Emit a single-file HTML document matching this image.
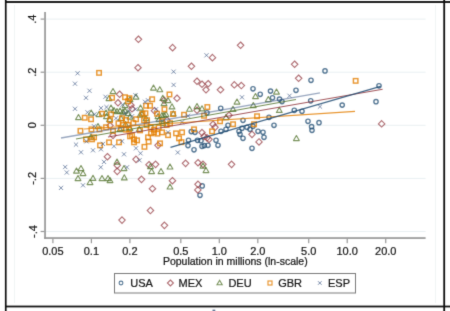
<!DOCTYPE html>
<html><head><meta charset="utf-8"><style>
html,body{margin:0;padding:0;background:#fff;width:450px;height:311px;overflow:hidden}
svg{display:block}
.t{font-family:"Liberation Sans",sans-serif;font-size:11px;fill:#151515;stroke:#151515;stroke-width:0.22px}
.tt{font-family:"Liberation Sans",sans-serif;font-size:10.5px;fill:#151515;stroke:#151515;stroke-width:0.22px}
</style></head><body>
<svg width="450" height="311" viewBox="0 0 450 311">
<defs><filter id="bl" x="0" y="0" width="450" height="311" filterUnits="userSpaceOnUse" color-interpolation-filters="sRGB"><feConvolveMatrix order="3" kernelMatrix="0.015 0.085 0.015 0.085 0.6 0.085 0.015 0.085 0.015" edgeMode="duplicate"/></filter></defs>
<g filter="url(#bl)"><rect width="450" height="311" fill="#fff"/>
<rect x="5" y="1" width="445" height="2" fill="#1e1e1e"/>
<rect x="5" y="305.6" width="445" height="1.8" fill="#151515"/>
<rect x="212.5" y="309.6" width="2.8" height="1.4" fill="#6a7a98"/>
<rect x="4.9" y="0" width="1.7" height="311" fill="#0e0e0e"/>
<rect x="443.3" y="0" width="1.8" height="311" fill="#0e0e0e"/>
<rect x="14" y="5" width="1" height="298" fill="#f1f5f5"/>
<rect x="435" y="5" width="1" height="298" fill="#f1f5f5"/>
<rect x="46" y="18.60" width="379.6" height="1" fill="#e9f0f2"/>
<rect x="46" y="71.70" width="379.6" height="1" fill="#e9f0f2"/>
<rect x="46" y="124.80" width="379.6" height="1" fill="#e9f0f2"/>
<rect x="46" y="177.90" width="379.6" height="1" fill="#e9f0f2"/>
<rect x="46" y="231.00" width="379.6" height="1" fill="#e9f0f2"/>
<rect x="44.2" y="12" width="1.7" height="226.8" fill="#979797"/>
<rect x="44.2" y="237.2" width="381.4" height="1.7" fill="#979797"/>
<rect x="40.6" y="18.50" width="3.8" height="1.2" fill="#979797"/>
<rect x="40.6" y="71.60" width="3.8" height="1.2" fill="#979797"/>
<rect x="40.6" y="124.70" width="3.8" height="1.2" fill="#979797"/>
<rect x="40.6" y="177.80" width="3.8" height="1.2" fill="#979797"/>
<rect x="40.6" y="230.90" width="3.8" height="1.2" fill="#979797"/>
<rect x="52.30" y="238.9" width="1.2" height="4.3" fill="#979797"/>
<text x="52.90" y="255" text-anchor="middle" class="t">0.05</text>
<rect x="90.80" y="238.9" width="1.2" height="4.3" fill="#979797"/>
<text x="91.40" y="255" text-anchor="middle" class="t">0.1</text>
<rect x="129.31" y="238.9" width="1.2" height="4.3" fill="#979797"/>
<text x="129.91" y="255" text-anchor="middle" class="t">0.2</text>
<rect x="180.21" y="238.9" width="1.2" height="4.3" fill="#979797"/>
<text x="180.81" y="255" text-anchor="middle" class="t">0.5</text>
<rect x="218.71" y="238.9" width="1.2" height="4.3" fill="#979797"/>
<text x="219.31" y="255" text-anchor="middle" class="t">1.0</text>
<rect x="257.22" y="238.9" width="1.2" height="4.3" fill="#979797"/>
<text x="257.82" y="255" text-anchor="middle" class="t">2.0</text>
<rect x="308.12" y="238.9" width="1.2" height="4.3" fill="#979797"/>
<text x="308.72" y="255" text-anchor="middle" class="t">5.0</text>
<rect x="346.62" y="238.9" width="1.2" height="4.3" fill="#979797"/>
<text x="347.22" y="255" text-anchor="middle" class="t">10.0</text>
<rect x="385.13" y="238.9" width="1.2" height="4.3" fill="#979797"/>
<text x="385.73" y="255" text-anchor="middle" class="t">20.0</text>
<text x="36.5" y="19.10" text-anchor="middle" class="t" transform="rotate(-90 36.5 19.10)">.4</text>
<text x="36.5" y="72.20" text-anchor="middle" class="t" transform="rotate(-90 36.5 72.20)">.2</text>
<text x="36.5" y="125.30" text-anchor="middle" class="t" transform="rotate(-90 36.5 125.30)">0</text>
<text x="36.5" y="178.40" text-anchor="middle" class="t" transform="rotate(-90 36.5 178.40)">-.2</text>
<text x="36.5" y="231.50" text-anchor="middle" class="t" transform="rotate(-90 36.5 231.50)">-.4</text>
<text x="235.3" y="265" text-anchor="middle" class="tt">Population in millions (ln-scale)</text>
<circle cx="325.0" cy="70.9" r="2.15" fill="none" stroke="#1a476f" stroke-opacity="0.74" stroke-width="1.35"/>
<circle cx="311.0" cy="80.3" r="2.15" fill="none" stroke="#1a476f" stroke-opacity="0.74" stroke-width="1.35"/>
<circle cx="379.0" cy="85.8" r="2.15" fill="none" stroke="#1a476f" stroke-opacity="0.74" stroke-width="1.35"/>
<circle cx="220.7" cy="108.3" r="2.15" fill="none" stroke="#1a476f" stroke-opacity="0.74" stroke-width="1.35"/>
<circle cx="207.0" cy="112.8" r="2.15" fill="none" stroke="#1a476f" stroke-opacity="0.74" stroke-width="1.35"/>
<circle cx="253.0" cy="88.8" r="2.15" fill="none" stroke="#1a476f" stroke-opacity="0.74" stroke-width="1.35"/>
<circle cx="260.2" cy="94.3" r="2.15" fill="none" stroke="#1a476f" stroke-opacity="0.74" stroke-width="1.35"/>
<circle cx="270.5" cy="91.1" r="2.15" fill="none" stroke="#1a476f" stroke-opacity="0.74" stroke-width="1.35"/>
<circle cx="296.0" cy="90.3" r="2.15" fill="none" stroke="#1a476f" stroke-opacity="0.74" stroke-width="1.35"/>
<circle cx="272.5" cy="97.8" r="2.15" fill="none" stroke="#1a476f" stroke-opacity="0.74" stroke-width="1.35"/>
<circle cx="279.5" cy="99.1" r="2.15" fill="none" stroke="#1a476f" stroke-opacity="0.74" stroke-width="1.35"/>
<circle cx="282.0" cy="101.6" r="2.15" fill="none" stroke="#1a476f" stroke-opacity="0.74" stroke-width="1.35"/>
<circle cx="310.7" cy="100.8" r="2.15" fill="none" stroke="#1a476f" stroke-opacity="0.74" stroke-width="1.35"/>
<circle cx="294.3" cy="110.3" r="2.15" fill="none" stroke="#1a476f" stroke-opacity="0.74" stroke-width="1.35"/>
<circle cx="302.0" cy="111.3" r="2.15" fill="none" stroke="#1a476f" stroke-opacity="0.74" stroke-width="1.35"/>
<circle cx="342.2" cy="105.1" r="2.15" fill="none" stroke="#1a476f" stroke-opacity="0.74" stroke-width="1.35"/>
<circle cx="376.0" cy="101.7" r="2.15" fill="none" stroke="#1a476f" stroke-opacity="0.74" stroke-width="1.35"/>
<circle cx="191.3" cy="131.6" r="2.15" fill="none" stroke="#1a476f" stroke-opacity="0.74" stroke-width="1.35"/>
<circle cx="195.0" cy="132.3" r="2.15" fill="none" stroke="#1a476f" stroke-opacity="0.74" stroke-width="1.35"/>
<circle cx="197.5" cy="140.3" r="2.15" fill="none" stroke="#1a476f" stroke-opacity="0.74" stroke-width="1.35"/>
<circle cx="204.3" cy="145.6" r="2.15" fill="none" stroke="#1a476f" stroke-opacity="0.74" stroke-width="1.35"/>
<circle cx="208.0" cy="145.3" r="2.15" fill="none" stroke="#1a476f" stroke-opacity="0.74" stroke-width="1.35"/>
<circle cx="194.0" cy="149.8" r="2.15" fill="none" stroke="#1a476f" stroke-opacity="0.74" stroke-width="1.35"/>
<circle cx="188.0" cy="145.6" r="2.15" fill="none" stroke="#1a476f" stroke-opacity="0.74" stroke-width="1.35"/>
<circle cx="243.0" cy="120.3" r="2.15" fill="none" stroke="#1a476f" stroke-opacity="0.74" stroke-width="1.35"/>
<circle cx="269.0" cy="117.3" r="2.15" fill="none" stroke="#1a476f" stroke-opacity="0.74" stroke-width="1.35"/>
<circle cx="274.0" cy="125.3" r="2.15" fill="none" stroke="#1a476f" stroke-opacity="0.74" stroke-width="1.35"/>
<circle cx="228.0" cy="125.3" r="2.15" fill="none" stroke="#1a476f" stroke-opacity="0.74" stroke-width="1.35"/>
<circle cx="221.0" cy="131.3" r="2.15" fill="none" stroke="#1a476f" stroke-opacity="0.74" stroke-width="1.35"/>
<circle cx="226.0" cy="129.3" r="2.15" fill="none" stroke="#1a476f" stroke-opacity="0.74" stroke-width="1.35"/>
<circle cx="239.0" cy="131.3" r="2.15" fill="none" stroke="#1a476f" stroke-opacity="0.74" stroke-width="1.35"/>
<circle cx="242.0" cy="128.3" r="2.15" fill="none" stroke="#1a476f" stroke-opacity="0.74" stroke-width="1.35"/>
<circle cx="247.0" cy="127.3" r="2.15" fill="none" stroke="#1a476f" stroke-opacity="0.74" stroke-width="1.35"/>
<circle cx="250.0" cy="129.3" r="2.15" fill="none" stroke="#1a476f" stroke-opacity="0.74" stroke-width="1.35"/>
<circle cx="253.0" cy="126.3" r="2.15" fill="none" stroke="#1a476f" stroke-opacity="0.74" stroke-width="1.35"/>
<circle cx="258.0" cy="131.3" r="2.15" fill="none" stroke="#1a476f" stroke-opacity="0.74" stroke-width="1.35"/>
<circle cx="263.0" cy="132.3" r="2.15" fill="none" stroke="#1a476f" stroke-opacity="0.74" stroke-width="1.35"/>
<circle cx="264.0" cy="137.3" r="2.15" fill="none" stroke="#1a476f" stroke-opacity="0.74" stroke-width="1.35"/>
<circle cx="243.0" cy="138.3" r="2.15" fill="none" stroke="#1a476f" stroke-opacity="0.74" stroke-width="1.35"/>
<circle cx="240.0" cy="134.3" r="2.15" fill="none" stroke="#1a476f" stroke-opacity="0.74" stroke-width="1.35"/>
<circle cx="252.0" cy="148.3" r="2.15" fill="none" stroke="#1a476f" stroke-opacity="0.74" stroke-width="1.35"/>
<circle cx="216.0" cy="140.3" r="2.15" fill="none" stroke="#1a476f" stroke-opacity="0.74" stroke-width="1.35"/>
<circle cx="218.0" cy="145.3" r="2.15" fill="none" stroke="#1a476f" stroke-opacity="0.74" stroke-width="1.35"/>
<circle cx="202.0" cy="146.3" r="2.15" fill="none" stroke="#1a476f" stroke-opacity="0.74" stroke-width="1.35"/>
<circle cx="188.5" cy="140.3" r="2.15" fill="none" stroke="#1a476f" stroke-opacity="0.74" stroke-width="1.35"/>
<circle cx="308.0" cy="121.3" r="2.15" fill="none" stroke="#1a476f" stroke-opacity="0.74" stroke-width="1.35"/>
<circle cx="319.0" cy="122.7" r="2.15" fill="none" stroke="#1a476f" stroke-opacity="0.74" stroke-width="1.35"/>
<circle cx="311.6" cy="126.7" r="2.15" fill="none" stroke="#1a476f" stroke-opacity="0.74" stroke-width="1.35"/>
<circle cx="312.0" cy="130.3" r="2.15" fill="none" stroke="#1a476f" stroke-opacity="0.74" stroke-width="1.35"/>
<circle cx="202.2" cy="185.9" r="2.15" fill="none" stroke="#1a476f" stroke-opacity="0.74" stroke-width="1.35"/>
<circle cx="200.0" cy="195.3" r="2.15" fill="none" stroke="#1a476f" stroke-opacity="0.74" stroke-width="1.35"/>
<circle cx="201.0" cy="140.8" r="2.15" fill="none" stroke="#1a476f" stroke-opacity="0.74" stroke-width="1.35"/>
<path d="M138.4 36.0L141.7 39.3L138.4 42.5L135.2 39.3Z" fill="none" stroke="#90353b" stroke-opacity="0.72" stroke-width="1.1"/>
<path d="M172.6 44.4L175.8 47.7L172.6 50.9L169.3 47.7Z" fill="none" stroke="#90353b" stroke-opacity="0.72" stroke-width="1.1"/>
<path d="M240.6 42.0L243.8 45.3L240.6 48.5L237.3 45.3Z" fill="none" stroke="#90353b" stroke-opacity="0.72" stroke-width="1.1"/>
<path d="M212.4 54.4L215.7 57.7L212.4 60.9L209.2 57.7Z" fill="none" stroke="#90353b" stroke-opacity="0.72" stroke-width="1.1"/>
<path d="M138.0 64.5L141.2 67.7L138.0 71.0L134.8 67.7Z" fill="none" stroke="#90353b" stroke-opacity="0.72" stroke-width="1.1"/>
<path d="M191.4 63.0L194.7 66.3L191.4 69.5L188.2 66.3Z" fill="none" stroke="#90353b" stroke-opacity="0.72" stroke-width="1.1"/>
<path d="M294.6 61.0L297.9 64.3L294.6 67.5L291.4 64.3Z" fill="none" stroke="#90353b" stroke-opacity="0.72" stroke-width="1.1"/>
<path d="M298.6 75.0L301.9 78.3L298.6 81.5L295.4 78.3Z" fill="none" stroke="#90353b" stroke-opacity="0.72" stroke-width="1.1"/>
<path d="M197.0 78.0L200.2 81.3L197.0 84.5L193.8 81.3Z" fill="none" stroke="#90353b" stroke-opacity="0.72" stroke-width="1.1"/>
<path d="M202.0 81.0L205.2 84.3L202.0 87.5L198.8 84.3Z" fill="none" stroke="#90353b" stroke-opacity="0.72" stroke-width="1.1"/>
<path d="M208.2 80.5L211.4 83.8L208.2 87.0L204.9 83.8Z" fill="none" stroke="#90353b" stroke-opacity="0.72" stroke-width="1.1"/>
<path d="M119.6 91.0L122.8 94.3L119.6 97.5L116.3 94.3Z" fill="none" stroke="#90353b" stroke-opacity="0.72" stroke-width="1.1"/>
<path d="M118.0 99.5L121.2 102.8L118.0 106.0L114.8 102.8Z" fill="none" stroke="#90353b" stroke-opacity="0.72" stroke-width="1.1"/>
<path d="M131.0 102.0L134.2 105.3L131.0 108.5L127.8 105.3Z" fill="none" stroke="#90353b" stroke-opacity="0.72" stroke-width="1.1"/>
<path d="M132.0 105.5L135.2 108.8L132.0 112.0L128.8 108.8Z" fill="none" stroke="#90353b" stroke-opacity="0.72" stroke-width="1.1"/>
<path d="M177.0 95.0L180.2 98.3L177.0 101.5L173.8 98.3Z" fill="none" stroke="#90353b" stroke-opacity="0.72" stroke-width="1.1"/>
<path d="M164.0 97.0L167.2 100.3L164.0 103.5L160.8 100.3Z" fill="none" stroke="#90353b" stroke-opacity="0.72" stroke-width="1.1"/>
<path d="M154.5 107.5L157.8 110.8L154.5 114.0L151.2 110.8Z" fill="none" stroke="#90353b" stroke-opacity="0.72" stroke-width="1.1"/>
<path d="M206.0 86.5L209.2 89.8L206.0 93.0L202.8 89.8Z" fill="none" stroke="#90353b" stroke-opacity="0.72" stroke-width="1.1"/>
<path d="M220.5 86.5L223.8 89.8L220.5 93.0L217.2 89.8Z" fill="none" stroke="#90353b" stroke-opacity="0.72" stroke-width="1.1"/>
<path d="M197.0 107.0L200.2 110.3L197.0 113.5L193.8 110.3Z" fill="none" stroke="#90353b" stroke-opacity="0.72" stroke-width="1.1"/>
<path d="M234.3 81.6L237.6 84.9L234.3 88.1L231.1 84.9Z" fill="none" stroke="#90353b" stroke-opacity="0.72" stroke-width="1.1"/>
<path d="M241.3 82.3L244.6 85.6L241.3 88.8L238.1 85.6Z" fill="none" stroke="#90353b" stroke-opacity="0.72" stroke-width="1.1"/>
<path d="M381.6 120.6L384.9 123.9L381.6 127.1L378.4 123.9Z" fill="none" stroke="#90353b" stroke-opacity="0.72" stroke-width="1.1"/>
<path d="M107.4 153.5L110.7 156.7L107.4 160.0L104.2 156.7Z" fill="none" stroke="#90353b" stroke-opacity="0.72" stroke-width="1.1"/>
<path d="M136.0 156.1L139.2 159.3L136.0 162.6L132.8 159.3Z" fill="none" stroke="#90353b" stroke-opacity="0.72" stroke-width="1.1"/>
<path d="M117.2 162.1L120.5 165.3L117.2 168.6L114.0 165.3Z" fill="none" stroke="#90353b" stroke-opacity="0.72" stroke-width="1.1"/>
<path d="M117.2 168.1L120.5 171.3L117.2 174.6L114.0 171.3Z" fill="none" stroke="#90353b" stroke-opacity="0.72" stroke-width="1.1"/>
<path d="M141.5 176.1L144.8 179.3L141.5 182.6L138.2 179.3Z" fill="none" stroke="#90353b" stroke-opacity="0.72" stroke-width="1.1"/>
<path d="M122.0 216.9L125.2 220.1L122.0 223.4L118.8 220.1Z" fill="none" stroke="#90353b" stroke-opacity="0.72" stroke-width="1.1"/>
<path d="M110.0 122.3L113.2 125.6L110.0 128.8L106.8 125.6Z" fill="none" stroke="#90353b" stroke-opacity="0.72" stroke-width="1.1"/>
<path d="M113.0 132.1L116.2 135.3L113.0 138.6L109.8 135.3Z" fill="none" stroke="#90353b" stroke-opacity="0.72" stroke-width="1.1"/>
<path d="M167.0 117.0L170.2 120.3L167.0 123.5L163.8 120.3Z" fill="none" stroke="#90353b" stroke-opacity="0.72" stroke-width="1.1"/>
<path d="M202.0 129.4L205.2 132.6L202.0 135.9L198.8 132.6Z" fill="none" stroke="#90353b" stroke-opacity="0.72" stroke-width="1.1"/>
<path d="M207.0 134.6L210.2 137.8L207.0 141.1L203.8 137.8Z" fill="none" stroke="#90353b" stroke-opacity="0.72" stroke-width="1.1"/>
<path d="M158.0 142.1L161.2 145.3L158.0 148.6L154.8 145.3Z" fill="none" stroke="#90353b" stroke-opacity="0.72" stroke-width="1.1"/>
<path d="M155.6 161.1L158.8 164.3L155.6 167.6L152.3 164.3Z" fill="none" stroke="#90353b" stroke-opacity="0.72" stroke-width="1.1"/>
<path d="M185.6 160.1L188.8 163.3L185.6 166.6L182.3 163.3Z" fill="none" stroke="#90353b" stroke-opacity="0.72" stroke-width="1.1"/>
<path d="M198.0 159.5L201.2 162.7L198.0 166.0L194.8 162.7Z" fill="none" stroke="#90353b" stroke-opacity="0.72" stroke-width="1.1"/>
<path d="M203.0 161.1L206.2 164.3L203.0 167.6L199.8 164.3Z" fill="none" stroke="#90353b" stroke-opacity="0.72" stroke-width="1.1"/>
<path d="M229.0 112.0L232.2 115.3L229.0 118.5L225.8 115.3Z" fill="none" stroke="#90353b" stroke-opacity="0.72" stroke-width="1.1"/>
<path d="M213.0 121.0L216.2 124.3L213.0 127.5L209.8 124.3Z" fill="none" stroke="#90353b" stroke-opacity="0.72" stroke-width="1.1"/>
<path d="M215.0 124.0L218.2 127.3L215.0 130.6L211.8 127.3Z" fill="none" stroke="#90353b" stroke-opacity="0.72" stroke-width="1.1"/>
<path d="M252.0 131.1L255.2 134.3L252.0 137.6L248.8 134.3Z" fill="none" stroke="#90353b" stroke-opacity="0.72" stroke-width="1.1"/>
<path d="M259.0 138.7L262.2 141.9L259.0 145.2L255.8 141.9Z" fill="none" stroke="#90353b" stroke-opacity="0.72" stroke-width="1.1"/>
<path d="M209.0 136.1L212.2 139.3L209.0 142.6L205.8 139.3Z" fill="none" stroke="#90353b" stroke-opacity="0.72" stroke-width="1.1"/>
<path d="M204.0 133.1L207.2 136.3L204.0 139.6L200.8 136.3Z" fill="none" stroke="#90353b" stroke-opacity="0.72" stroke-width="1.1"/>
<path d="M149.0 161.5L152.2 164.7L149.0 168.0L145.8 164.7Z" fill="none" stroke="#90353b" stroke-opacity="0.72" stroke-width="1.1"/>
<path d="M172.4 177.5L175.7 180.7L172.4 184.0L169.2 180.7Z" fill="none" stroke="#90353b" stroke-opacity="0.72" stroke-width="1.1"/>
<path d="M152.4 185.5L155.7 188.7L152.4 192.0L149.2 188.7Z" fill="none" stroke="#90353b" stroke-opacity="0.72" stroke-width="1.1"/>
<path d="M198.0 181.1L201.2 184.3L198.0 187.6L194.8 184.3Z" fill="none" stroke="#90353b" stroke-opacity="0.72" stroke-width="1.1"/>
<path d="M197.8 186.7L201.1 189.9L197.8 193.2L194.6 189.9Z" fill="none" stroke="#90353b" stroke-opacity="0.72" stroke-width="1.1"/>
<path d="M150.4 207.2L153.7 210.5L150.4 213.8L147.2 210.5Z" fill="none" stroke="#90353b" stroke-opacity="0.72" stroke-width="1.1"/>
<path d="M231.6 161.1L234.8 164.3L231.6 167.6L228.3 164.3Z" fill="none" stroke="#90353b" stroke-opacity="0.72" stroke-width="1.1"/>
<path d="M164.4 222.1L167.7 225.3L164.4 228.6L161.2 225.3Z" fill="none" stroke="#90353b" stroke-opacity="0.72" stroke-width="1.1"/>
<path d="M91.2 110.0L94.1 115.1L88.3 115.1Z" fill="none" stroke="#55752f" stroke-opacity="0.78" stroke-width="1.1" stroke-linejoin="round"/>
<path d="M106.0 110.0L108.9 115.1L103.1 115.1Z" fill="none" stroke="#55752f" stroke-opacity="0.78" stroke-width="1.1" stroke-linejoin="round"/>
<path d="M78.5 114.5L81.4 119.6L75.6 119.6Z" fill="none" stroke="#55752f" stroke-opacity="0.78" stroke-width="1.1" stroke-linejoin="round"/>
<path d="M113.0 88.5L115.9 93.6L110.1 93.6Z" fill="none" stroke="#55752f" stroke-opacity="0.78" stroke-width="1.1" stroke-linejoin="round"/>
<path d="M109.0 95.5L111.9 100.6L106.1 100.6Z" fill="none" stroke="#55752f" stroke-opacity="0.78" stroke-width="1.1" stroke-linejoin="round"/>
<path d="M136.0 94.0L138.9 99.1L133.1 99.1Z" fill="none" stroke="#55752f" stroke-opacity="0.78" stroke-width="1.1" stroke-linejoin="round"/>
<path d="M130.0 96.5L132.9 101.6L127.1 101.6Z" fill="none" stroke="#55752f" stroke-opacity="0.78" stroke-width="1.1" stroke-linejoin="round"/>
<path d="M125.0 102.5L127.9 107.6L122.1 107.6Z" fill="none" stroke="#55752f" stroke-opacity="0.78" stroke-width="1.1" stroke-linejoin="round"/>
<path d="M111.0 105.0L113.9 110.1L108.1 110.1Z" fill="none" stroke="#55752f" stroke-opacity="0.78" stroke-width="1.1" stroke-linejoin="round"/>
<path d="M114.0 107.5L116.9 112.6L111.1 112.6Z" fill="none" stroke="#55752f" stroke-opacity="0.78" stroke-width="1.1" stroke-linejoin="round"/>
<path d="M120.0 108.0L122.9 113.1L117.1 113.1Z" fill="none" stroke="#55752f" stroke-opacity="0.78" stroke-width="1.1" stroke-linejoin="round"/>
<path d="M123.0 109.0L125.9 114.1L120.1 114.1Z" fill="none" stroke="#55752f" stroke-opacity="0.78" stroke-width="1.1" stroke-linejoin="round"/>
<path d="M128.0 110.5L130.9 115.6L125.1 115.6Z" fill="none" stroke="#55752f" stroke-opacity="0.78" stroke-width="1.1" stroke-linejoin="round"/>
<path d="M140.5 105.0L143.4 110.1L137.6 110.1Z" fill="none" stroke="#55752f" stroke-opacity="0.78" stroke-width="1.1" stroke-linejoin="round"/>
<path d="M153.5 85.0L156.4 90.1L150.6 90.1Z" fill="none" stroke="#55752f" stroke-opacity="0.78" stroke-width="1.1" stroke-linejoin="round"/>
<path d="M159.8 86.7L162.7 91.8L156.9 91.8Z" fill="none" stroke="#55752f" stroke-opacity="0.78" stroke-width="1.1" stroke-linejoin="round"/>
<path d="M162.8 95.3L165.7 100.4L159.9 100.4Z" fill="none" stroke="#55752f" stroke-opacity="0.78" stroke-width="1.1" stroke-linejoin="round"/>
<path d="M168.0 97.5L170.9 102.6L165.1 102.6Z" fill="none" stroke="#55752f" stroke-opacity="0.78" stroke-width="1.1" stroke-linejoin="round"/>
<path d="M172.0 103.8L174.9 108.9L169.1 108.9Z" fill="none" stroke="#55752f" stroke-opacity="0.78" stroke-width="1.1" stroke-linejoin="round"/>
<path d="M164.0 100.5L166.9 105.6L161.1 105.6Z" fill="none" stroke="#55752f" stroke-opacity="0.78" stroke-width="1.1" stroke-linejoin="round"/>
<path d="M166.0 111.5L168.9 116.6L163.1 116.6Z" fill="none" stroke="#55752f" stroke-opacity="0.78" stroke-width="1.1" stroke-linejoin="round"/>
<path d="M189.5 106.2L192.4 111.3L186.6 111.3Z" fill="none" stroke="#55752f" stroke-opacity="0.78" stroke-width="1.1" stroke-linejoin="round"/>
<path d="M197.0 103.5L199.9 108.6L194.1 108.6Z" fill="none" stroke="#55752f" stroke-opacity="0.78" stroke-width="1.1" stroke-linejoin="round"/>
<path d="M202.0 105.8L204.9 110.9L199.1 110.9Z" fill="none" stroke="#55752f" stroke-opacity="0.78" stroke-width="1.1" stroke-linejoin="round"/>
<path d="M237.0 99.0L239.9 104.1L234.1 104.1Z" fill="none" stroke="#55752f" stroke-opacity="0.78" stroke-width="1.1" stroke-linejoin="round"/>
<path d="M255.5 93.5L258.4 98.6L252.6 98.6Z" fill="none" stroke="#55752f" stroke-opacity="0.78" stroke-width="1.1" stroke-linejoin="round"/>
<path d="M268.3 96.5L271.2 101.6L265.4 101.6Z" fill="none" stroke="#55752f" stroke-opacity="0.78" stroke-width="1.1" stroke-linejoin="round"/>
<path d="M253.3 102.5L256.2 107.6L250.4 107.6Z" fill="none" stroke="#55752f" stroke-opacity="0.78" stroke-width="1.1" stroke-linejoin="round"/>
<path d="M233.0 106.3L235.9 111.4L230.1 111.4Z" fill="none" stroke="#55752f" stroke-opacity="0.78" stroke-width="1.1" stroke-linejoin="round"/>
<path d="M276.5 89.0L279.4 94.1L273.6 94.1Z" fill="none" stroke="#55752f" stroke-opacity="0.78" stroke-width="1.1" stroke-linejoin="round"/>
<path d="M279.3 107.3L282.2 112.4L276.4 112.4Z" fill="none" stroke="#55752f" stroke-opacity="0.78" stroke-width="1.1" stroke-linejoin="round"/>
<path d="M117.0 159.0L119.9 164.1L114.1 164.1Z" fill="none" stroke="#55752f" stroke-opacity="0.78" stroke-width="1.1" stroke-linejoin="round"/>
<path d="M124.0 165.5L126.9 170.6L121.1 170.6Z" fill="none" stroke="#55752f" stroke-opacity="0.78" stroke-width="1.1" stroke-linejoin="round"/>
<path d="M76.5 168.0L79.4 173.1L73.6 173.1Z" fill="none" stroke="#55752f" stroke-opacity="0.78" stroke-width="1.1" stroke-linejoin="round"/>
<path d="M81.0 165.5L83.9 170.6L78.1 170.6Z" fill="none" stroke="#55752f" stroke-opacity="0.78" stroke-width="1.1" stroke-linejoin="round"/>
<path d="M83.0 170.5L85.9 175.6L80.1 175.6Z" fill="none" stroke="#55752f" stroke-opacity="0.78" stroke-width="1.1" stroke-linejoin="round"/>
<path d="M78.0 175.5L80.9 180.6L75.1 180.6Z" fill="none" stroke="#55752f" stroke-opacity="0.78" stroke-width="1.1" stroke-linejoin="round"/>
<path d="M93.0 175.3L95.9 180.4L90.1 180.4Z" fill="none" stroke="#55752f" stroke-opacity="0.78" stroke-width="1.1" stroke-linejoin="round"/>
<path d="M90.0 179.5L92.9 184.6L87.1 184.6Z" fill="none" stroke="#55752f" stroke-opacity="0.78" stroke-width="1.1" stroke-linejoin="round"/>
<path d="M102.0 175.5L104.9 180.6L99.1 180.6Z" fill="none" stroke="#55752f" stroke-opacity="0.78" stroke-width="1.1" stroke-linejoin="round"/>
<path d="M108.0 175.5L110.9 180.6L105.1 180.6Z" fill="none" stroke="#55752f" stroke-opacity="0.78" stroke-width="1.1" stroke-linejoin="round"/>
<path d="M110.0 177.5L112.9 182.6L107.1 182.6Z" fill="none" stroke="#55752f" stroke-opacity="0.78" stroke-width="1.1" stroke-linejoin="round"/>
<path d="M124.3 174.8L127.2 179.9L121.4 179.9Z" fill="none" stroke="#55752f" stroke-opacity="0.78" stroke-width="1.1" stroke-linejoin="round"/>
<path d="M109.5 116.5L112.4 121.6L106.6 121.6Z" fill="none" stroke="#55752f" stroke-opacity="0.78" stroke-width="1.1" stroke-linejoin="round"/>
<path d="M125.5 121.5L128.4 126.6L122.6 126.6Z" fill="none" stroke="#55752f" stroke-opacity="0.78" stroke-width="1.1" stroke-linejoin="round"/>
<path d="M98.0 123.5L100.9 128.6L95.1 128.6Z" fill="none" stroke="#55752f" stroke-opacity="0.78" stroke-width="1.1" stroke-linejoin="round"/>
<path d="M120.0 126.5L122.9 131.6L117.1 131.6Z" fill="none" stroke="#55752f" stroke-opacity="0.78" stroke-width="1.1" stroke-linejoin="round"/>
<path d="M91.0 134.0L93.9 139.1L88.1 139.1Z" fill="none" stroke="#55752f" stroke-opacity="0.78" stroke-width="1.1" stroke-linejoin="round"/>
<path d="M125.0 108.0L127.9 113.1L122.1 113.1Z" fill="none" stroke="#55752f" stroke-opacity="0.78" stroke-width="1.1" stroke-linejoin="round"/>
<path d="M117.0 108.5L119.9 113.6L114.1 113.6Z" fill="none" stroke="#55752f" stroke-opacity="0.78" stroke-width="1.1" stroke-linejoin="round"/>
<path d="M106.5 113.5L109.4 118.6L103.6 118.6Z" fill="none" stroke="#55752f" stroke-opacity="0.78" stroke-width="1.1" stroke-linejoin="round"/>
<path d="M130.0 114.0L132.9 119.1L127.1 119.1Z" fill="none" stroke="#55752f" stroke-opacity="0.78" stroke-width="1.1" stroke-linejoin="round"/>
<path d="M121.0 115.5L123.9 120.6L118.1 120.6Z" fill="none" stroke="#55752f" stroke-opacity="0.78" stroke-width="1.1" stroke-linejoin="round"/>
<path d="M142.0 111.0L144.9 116.1L139.1 116.1Z" fill="none" stroke="#55752f" stroke-opacity="0.78" stroke-width="1.1" stroke-linejoin="round"/>
<path d="M146.0 115.5L148.9 120.6L143.1 120.6Z" fill="none" stroke="#55752f" stroke-opacity="0.78" stroke-width="1.1" stroke-linejoin="round"/>
<path d="M159.0 116.5L161.9 121.6L156.1 121.6Z" fill="none" stroke="#55752f" stroke-opacity="0.78" stroke-width="1.1" stroke-linejoin="round"/>
<path d="M158.0 113.5L160.9 118.6L155.1 118.6Z" fill="none" stroke="#55752f" stroke-opacity="0.78" stroke-width="1.1" stroke-linejoin="round"/>
<path d="M99.0 111.5L101.9 116.6L96.1 116.6Z" fill="none" stroke="#55752f" stroke-opacity="0.78" stroke-width="1.1" stroke-linejoin="round"/>
<path d="M162.0 112.5L164.9 117.6L159.1 117.6Z" fill="none" stroke="#55752f" stroke-opacity="0.78" stroke-width="1.1" stroke-linejoin="round"/>
<path d="M163.0 120.5L165.9 125.6L160.1 125.6Z" fill="none" stroke="#55752f" stroke-opacity="0.78" stroke-width="1.1" stroke-linejoin="round"/>
<path d="M226.0 114.5L228.9 119.6L223.1 119.6Z" fill="none" stroke="#55752f" stroke-opacity="0.78" stroke-width="1.1" stroke-linejoin="round"/>
<path d="M296.4 135.5L299.3 140.6L293.5 140.6Z" fill="none" stroke="#55752f" stroke-opacity="0.78" stroke-width="1.1" stroke-linejoin="round"/>
<path d="M150.5 163.5L153.4 168.6L147.6 168.6Z" fill="none" stroke="#55752f" stroke-opacity="0.78" stroke-width="1.1" stroke-linejoin="round"/>
<path d="M151.6 168.5L154.5 173.6L148.7 173.6Z" fill="none" stroke="#55752f" stroke-opacity="0.78" stroke-width="1.1" stroke-linejoin="round"/>
<path d="M161.0 168.5L163.9 173.6L158.1 173.6Z" fill="none" stroke="#55752f" stroke-opacity="0.78" stroke-width="1.1" stroke-linejoin="round"/>
<path d="M170.0 163.9L172.9 169.0L167.1 169.0Z" fill="none" stroke="#55752f" stroke-opacity="0.78" stroke-width="1.1" stroke-linejoin="round"/>
<path d="M203.0 163.0L205.9 168.1L200.1 168.1Z" fill="none" stroke="#55752f" stroke-opacity="0.78" stroke-width="1.1" stroke-linejoin="round"/>
<path d="M206.0 167.5L208.9 172.6L203.1 172.6Z" fill="none" stroke="#55752f" stroke-opacity="0.78" stroke-width="1.1" stroke-linejoin="round"/>
<path d="M170.0 183.9L172.9 189.0L167.1 189.0Z" fill="none" stroke="#55752f" stroke-opacity="0.78" stroke-width="1.1" stroke-linejoin="round"/>
<path d="M130.0 125.5L132.9 130.6L127.1 130.6Z" fill="none" stroke="#55752f" stroke-opacity="0.78" stroke-width="1.1" stroke-linejoin="round"/>
<path d="M139.3 126.2L142.2 131.3L136.4 131.3Z" fill="none" stroke="#55752f" stroke-opacity="0.78" stroke-width="1.1" stroke-linejoin="round"/>
<path d="M140.0 112.2L142.9 117.3L137.1 117.3Z" fill="none" stroke="#55752f" stroke-opacity="0.78" stroke-width="1.1" stroke-linejoin="round"/>
<path d="M173.3 110.8L176.2 115.9L170.4 115.9Z" fill="none" stroke="#55752f" stroke-opacity="0.78" stroke-width="1.1" stroke-linejoin="round"/>
<path d="M164.0 112.2L166.9 117.3L161.1 117.3Z" fill="none" stroke="#55752f" stroke-opacity="0.78" stroke-width="1.1" stroke-linejoin="round"/>
<rect x="96.8" y="70.6" width="4.5" height="4.5" fill="none" stroke="#e37e00" stroke-opacity="0.8" stroke-width="1.45"/>
<rect x="353.4" y="78.6" width="4.5" height="4.5" fill="none" stroke="#e37e00" stroke-opacity="0.8" stroke-width="1.45"/>
<rect x="99.8" y="111.5" width="4.5" height="4.5" fill="none" stroke="#e37e00" stroke-opacity="0.8" stroke-width="1.45"/>
<rect x="82.5" y="115.5" width="4.5" height="4.5" fill="none" stroke="#e37e00" stroke-opacity="0.8" stroke-width="1.45"/>
<rect x="88.8" y="117.0" width="4.5" height="4.5" fill="none" stroke="#e37e00" stroke-opacity="0.8" stroke-width="1.45"/>
<rect x="109.8" y="95.5" width="4.5" height="4.5" fill="none" stroke="#e37e00" stroke-opacity="0.8" stroke-width="1.45"/>
<rect x="122.8" y="95.0" width="4.5" height="4.5" fill="none" stroke="#e37e00" stroke-opacity="0.8" stroke-width="1.45"/>
<rect x="127.2" y="96.0" width="4.5" height="4.5" fill="none" stroke="#e37e00" stroke-opacity="0.8" stroke-width="1.45"/>
<rect x="143.8" y="103.5" width="4.5" height="4.5" fill="none" stroke="#e37e00" stroke-opacity="0.8" stroke-width="1.45"/>
<rect x="140.2" y="111.5" width="4.5" height="4.5" fill="none" stroke="#e37e00" stroke-opacity="0.8" stroke-width="1.45"/>
<rect x="108.8" y="112.0" width="4.5" height="4.5" fill="none" stroke="#e37e00" stroke-opacity="0.8" stroke-width="1.45"/>
<rect x="167.2" y="92.2" width="4.5" height="4.5" fill="none" stroke="#e37e00" stroke-opacity="0.8" stroke-width="1.45"/>
<rect x="149.9" y="97.0" width="4.5" height="4.5" fill="none" stroke="#e37e00" stroke-opacity="0.8" stroke-width="1.45"/>
<rect x="147.8" y="103.5" width="4.5" height="4.5" fill="none" stroke="#e37e00" stroke-opacity="0.8" stroke-width="1.45"/>
<rect x="162.2" y="107.0" width="4.5" height="4.5" fill="none" stroke="#e37e00" stroke-opacity="0.8" stroke-width="1.45"/>
<rect x="154.8" y="111.5" width="4.5" height="4.5" fill="none" stroke="#e37e00" stroke-opacity="0.8" stroke-width="1.45"/>
<rect x="170.8" y="111.8" width="4.5" height="4.5" fill="none" stroke="#e37e00" stroke-opacity="0.8" stroke-width="1.45"/>
<rect x="181.8" y="112.5" width="4.5" height="4.5" fill="none" stroke="#e37e00" stroke-opacity="0.8" stroke-width="1.45"/>
<rect x="143.2" y="111.0" width="4.5" height="4.5" fill="none" stroke="#e37e00" stroke-opacity="0.8" stroke-width="1.45"/>
<rect x="205.1" y="104.8" width="4.5" height="4.5" fill="none" stroke="#e37e00" stroke-opacity="0.8" stroke-width="1.45"/>
<rect x="78.2" y="128.6" width="4.5" height="4.5" fill="none" stroke="#e37e00" stroke-opacity="0.8" stroke-width="1.45"/>
<rect x="83.8" y="137.1" width="4.5" height="4.5" fill="none" stroke="#e37e00" stroke-opacity="0.8" stroke-width="1.45"/>
<rect x="89.8" y="137.1" width="4.5" height="4.5" fill="none" stroke="#e37e00" stroke-opacity="0.8" stroke-width="1.45"/>
<rect x="97.8" y="143.1" width="4.5" height="4.5" fill="none" stroke="#e37e00" stroke-opacity="0.8" stroke-width="1.45"/>
<rect x="106.8" y="140.1" width="4.5" height="4.5" fill="none" stroke="#e37e00" stroke-opacity="0.8" stroke-width="1.45"/>
<rect x="116.8" y="140.1" width="4.5" height="4.5" fill="none" stroke="#e37e00" stroke-opacity="0.8" stroke-width="1.45"/>
<rect x="127.8" y="134.1" width="4.5" height="4.5" fill="none" stroke="#e37e00" stroke-opacity="0.8" stroke-width="1.45"/>
<rect x="134.8" y="138.1" width="4.5" height="4.5" fill="none" stroke="#e37e00" stroke-opacity="0.8" stroke-width="1.45"/>
<rect x="142.2" y="144.6" width="4.5" height="4.5" fill="none" stroke="#e37e00" stroke-opacity="0.8" stroke-width="1.45"/>
<rect x="107.8" y="118.0" width="4.5" height="4.5" fill="none" stroke="#e37e00" stroke-opacity="0.8" stroke-width="1.45"/>
<rect x="116.2" y="121.0" width="4.5" height="4.5" fill="none" stroke="#e37e00" stroke-opacity="0.8" stroke-width="1.45"/>
<rect x="119.8" y="116.0" width="4.5" height="4.5" fill="none" stroke="#e37e00" stroke-opacity="0.8" stroke-width="1.45"/>
<rect x="123.8" y="117.8" width="4.5" height="4.5" fill="none" stroke="#e37e00" stroke-opacity="0.8" stroke-width="1.45"/>
<rect x="97.2" y="127.1" width="4.5" height="4.5" fill="none" stroke="#e37e00" stroke-opacity="0.8" stroke-width="1.45"/>
<rect x="89.2" y="127.1" width="4.5" height="4.5" fill="none" stroke="#e37e00" stroke-opacity="0.8" stroke-width="1.45"/>
<rect x="110.8" y="128.6" width="4.5" height="4.5" fill="none" stroke="#e37e00" stroke-opacity="0.8" stroke-width="1.45"/>
<rect x="129.8" y="133.1" width="4.5" height="4.5" fill="none" stroke="#e37e00" stroke-opacity="0.8" stroke-width="1.45"/>
<rect x="91.8" y="135.1" width="4.5" height="4.5" fill="none" stroke="#e37e00" stroke-opacity="0.8" stroke-width="1.45"/>
<rect x="133.8" y="117.0" width="4.5" height="4.5" fill="none" stroke="#e37e00" stroke-opacity="0.8" stroke-width="1.45"/>
<rect x="141.8" y="118.0" width="4.5" height="4.5" fill="none" stroke="#e37e00" stroke-opacity="0.8" stroke-width="1.45"/>
<rect x="159.8" y="119.0" width="4.5" height="4.5" fill="none" stroke="#e37e00" stroke-opacity="0.8" stroke-width="1.45"/>
<rect x="173.8" y="131.1" width="4.5" height="4.5" fill="none" stroke="#e37e00" stroke-opacity="0.8" stroke-width="1.45"/>
<rect x="103.8" y="125.0" width="4.5" height="4.5" fill="none" stroke="#e37e00" stroke-opacity="0.8" stroke-width="1.45"/>
<rect x="125.8" y="99.0" width="4.5" height="4.5" fill="none" stroke="#e37e00" stroke-opacity="0.8" stroke-width="1.45"/>
<rect x="144.8" y="118.0" width="4.5" height="4.5" fill="none" stroke="#e37e00" stroke-opacity="0.8" stroke-width="1.45"/>
<rect x="167.8" y="121.0" width="4.5" height="4.5" fill="none" stroke="#e37e00" stroke-opacity="0.8" stroke-width="1.45"/>
<rect x="118.8" y="126.1" width="4.5" height="4.5" fill="none" stroke="#e37e00" stroke-opacity="0.8" stroke-width="1.45"/>
<rect x="126.8" y="127.1" width="4.5" height="4.5" fill="none" stroke="#e37e00" stroke-opacity="0.8" stroke-width="1.45"/>
<rect x="137.8" y="128.1" width="4.5" height="4.5" fill="none" stroke="#e37e00" stroke-opacity="0.8" stroke-width="1.45"/>
<rect x="148.8" y="131.1" width="4.5" height="4.5" fill="none" stroke="#e37e00" stroke-opacity="0.8" stroke-width="1.45"/>
<rect x="151.8" y="130.1" width="4.5" height="4.5" fill="none" stroke="#e37e00" stroke-opacity="0.8" stroke-width="1.45"/>
<rect x="159.8" y="130.1" width="4.5" height="4.5" fill="none" stroke="#e37e00" stroke-opacity="0.8" stroke-width="1.45"/>
<rect x="165.8" y="132.9" width="4.5" height="4.5" fill="none" stroke="#e37e00" stroke-opacity="0.8" stroke-width="1.45"/>
<rect x="179.8" y="130.1" width="4.5" height="4.5" fill="none" stroke="#e37e00" stroke-opacity="0.8" stroke-width="1.45"/>
<rect x="176.8" y="136.1" width="4.5" height="4.5" fill="none" stroke="#e37e00" stroke-opacity="0.8" stroke-width="1.45"/>
<rect x="191.8" y="127.1" width="4.5" height="4.5" fill="none" stroke="#e37e00" stroke-opacity="0.8" stroke-width="1.45"/>
<rect x="131.8" y="137.1" width="4.5" height="4.5" fill="none" stroke="#e37e00" stroke-opacity="0.8" stroke-width="1.45"/>
<rect x="131.8" y="140.1" width="4.5" height="4.5" fill="none" stroke="#e37e00" stroke-opacity="0.8" stroke-width="1.45"/>
<rect x="145.8" y="135.1" width="4.5" height="4.5" fill="none" stroke="#e37e00" stroke-opacity="0.8" stroke-width="1.45"/>
<rect x="157.8" y="141.1" width="4.5" height="4.5" fill="none" stroke="#e37e00" stroke-opacity="0.8" stroke-width="1.45"/>
<rect x="179.2" y="139.9" width="4.5" height="4.5" fill="none" stroke="#e37e00" stroke-opacity="0.8" stroke-width="1.45"/>
<rect x="254.8" y="114.0" width="4.5" height="4.5" fill="none" stroke="#e37e00" stroke-opacity="0.8" stroke-width="1.45"/>
<rect x="217.8" y="119.0" width="4.5" height="4.5" fill="none" stroke="#e37e00" stroke-opacity="0.8" stroke-width="1.45"/>
<rect x="230.8" y="122.0" width="4.5" height="4.5" fill="none" stroke="#e37e00" stroke-opacity="0.8" stroke-width="1.45"/>
<rect x="251.8" y="122.0" width="4.5" height="4.5" fill="none" stroke="#e37e00" stroke-opacity="0.8" stroke-width="1.45"/>
<rect x="209.8" y="129.1" width="4.5" height="4.5" fill="none" stroke="#e37e00" stroke-opacity="0.8" stroke-width="1.45"/>
<rect x="125.8" y="122.8" width="4.5" height="4.5" fill="none" stroke="#e37e00" stroke-opacity="0.8" stroke-width="1.45"/>
<rect x="131.1" y="120.8" width="4.5" height="4.5" fill="none" stroke="#e37e00" stroke-opacity="0.8" stroke-width="1.45"/>
<rect x="144.4" y="122.8" width="4.5" height="4.5" fill="none" stroke="#e37e00" stroke-opacity="0.8" stroke-width="1.45"/>
<rect x="148.4" y="124.8" width="4.5" height="4.5" fill="none" stroke="#e37e00" stroke-opacity="0.8" stroke-width="1.45"/>
<rect x="151.8" y="127.4" width="4.5" height="4.5" fill="none" stroke="#e37e00" stroke-opacity="0.8" stroke-width="1.45"/>
<rect x="156.4" y="125.3" width="4.5" height="4.5" fill="none" stroke="#e37e00" stroke-opacity="0.8" stroke-width="1.45"/>
<rect x="164.4" y="122.8" width="4.5" height="4.5" fill="none" stroke="#e37e00" stroke-opacity="0.8" stroke-width="1.45"/>
<rect x="120.5" y="122.8" width="4.5" height="4.5" fill="none" stroke="#e37e00" stroke-opacity="0.8" stroke-width="1.45"/>
<rect x="123.8" y="127.4" width="4.5" height="4.5" fill="none" stroke="#e37e00" stroke-opacity="0.8" stroke-width="1.45"/>
<rect x="146.4" y="139.4" width="4.5" height="4.5" fill="none" stroke="#e37e00" stroke-opacity="0.8" stroke-width="1.45"/>
<rect x="155.1" y="131.4" width="4.5" height="4.5" fill="none" stroke="#e37e00" stroke-opacity="0.8" stroke-width="1.45"/>
<rect x="201.8" y="113.5" width="4.5" height="4.5" fill="none" stroke="#e37e00" stroke-opacity="0.8" stroke-width="1.45"/>
<path d="M204.4 53.2L208.6 57.4M208.6 53.2L204.4 57.4" stroke="#465f8a" stroke-opacity="0.72" stroke-width="0.95"/>
<path d="M171.5 69.6L175.7 73.8M175.7 69.6L171.5 73.8" stroke="#465f8a" stroke-opacity="0.72" stroke-width="0.95"/>
<path d="M75.5 71.2L79.7 75.4M79.7 71.2L75.5 75.4" stroke="#465f8a" stroke-opacity="0.72" stroke-width="0.95"/>
<path d="M72.9 81.6L77.1 85.8M77.1 81.6L72.9 85.8" stroke="#465f8a" stroke-opacity="0.72" stroke-width="0.95"/>
<path d="M171.5 82.8L175.7 87.0M175.7 82.8L171.5 87.0" stroke="#465f8a" stroke-opacity="0.72" stroke-width="0.95"/>
<path d="M87.4 88.7L91.6 92.9M91.6 88.7L87.4 92.9" stroke="#465f8a" stroke-opacity="0.72" stroke-width="0.95"/>
<path d="M83.9 95.7L88.1 99.9M88.1 95.7L83.9 99.9" stroke="#465f8a" stroke-opacity="0.72" stroke-width="0.95"/>
<path d="M72.9 106.7L77.1 110.9M77.1 106.7L72.9 110.9" stroke="#465f8a" stroke-opacity="0.72" stroke-width="0.95"/>
<path d="M103.4 94.7L107.6 98.9M107.6 94.7L103.4 98.9" stroke="#465f8a" stroke-opacity="0.72" stroke-width="0.95"/>
<path d="M98.9 106.0L103.1 110.2M103.1 106.0L98.9 110.2" stroke="#465f8a" stroke-opacity="0.72" stroke-width="0.95"/>
<path d="M104.4 105.0L108.6 109.2M108.6 105.0L104.4 109.2" stroke="#465f8a" stroke-opacity="0.72" stroke-width="0.95"/>
<path d="M85.4 110.2L89.6 114.4M89.6 110.2L85.4 114.4" stroke="#465f8a" stroke-opacity="0.72" stroke-width="0.95"/>
<path d="M92.4 112.2L96.6 116.4M96.6 112.2L92.4 116.4" stroke="#465f8a" stroke-opacity="0.72" stroke-width="0.95"/>
<path d="M91.9 124.2L96.1 128.4M96.1 124.2L91.9 128.4" stroke="#465f8a" stroke-opacity="0.72" stroke-width="0.95"/>
<path d="M133.4 93.2L137.6 97.4M137.6 93.2L133.4 97.4" stroke="#465f8a" stroke-opacity="0.72" stroke-width="0.95"/>
<path d="M120.4 102.7L124.6 106.9M124.6 102.7L120.4 106.9" stroke="#465f8a" stroke-opacity="0.72" stroke-width="0.95"/>
<path d="M133.4 107.2L137.6 111.4M137.6 107.2L133.4 111.4" stroke="#465f8a" stroke-opacity="0.72" stroke-width="0.95"/>
<path d="M142.9 99.7L147.1 103.9M147.1 99.7L142.9 103.9" stroke="#465f8a" stroke-opacity="0.72" stroke-width="0.95"/>
<path d="M145.9 98.2L150.1 102.4M150.1 98.2L145.9 102.4" stroke="#465f8a" stroke-opacity="0.72" stroke-width="0.95"/>
<path d="M185.9 113.7L190.1 117.9M190.1 113.7L185.9 117.9" stroke="#465f8a" stroke-opacity="0.72" stroke-width="0.95"/>
<path d="M239.9 95.2L244.1 99.4M244.1 95.2L239.9 99.4" stroke="#465f8a" stroke-opacity="0.72" stroke-width="0.95"/>
<path d="M287.4 93.7L291.6 97.9M291.6 93.7L287.4 97.9" stroke="#465f8a" stroke-opacity="0.72" stroke-width="0.95"/>
<path d="M317.9 104.5L322.1 108.7M322.1 104.5L317.9 108.7" stroke="#465f8a" stroke-opacity="0.72" stroke-width="0.95"/>
<path d="M84.4 139.2L88.6 143.4M88.6 139.2L84.4 143.4" stroke="#465f8a" stroke-opacity="0.72" stroke-width="0.95"/>
<path d="M73.9 142.5L78.1 146.7M78.1 142.5L73.9 146.7" stroke="#465f8a" stroke-opacity="0.72" stroke-width="0.95"/>
<path d="M78.9 150.2L83.1 154.4M83.1 150.2L78.9 154.4" stroke="#465f8a" stroke-opacity="0.72" stroke-width="0.95"/>
<path d="M90.9 148.2L95.1 152.4M95.1 148.2L90.9 152.4" stroke="#465f8a" stroke-opacity="0.72" stroke-width="0.95"/>
<path d="M98.9 147.2L103.1 151.4M103.1 147.2L98.9 151.4" stroke="#465f8a" stroke-opacity="0.72" stroke-width="0.95"/>
<path d="M100.9 141.8L105.1 146.0M105.1 141.8L100.9 146.0" stroke="#465f8a" stroke-opacity="0.72" stroke-width="0.95"/>
<path d="M111.9 144.2L116.1 148.4M116.1 144.2L111.9 148.4" stroke="#465f8a" stroke-opacity="0.72" stroke-width="0.95"/>
<path d="M133.9 146.2L138.1 150.4M138.1 146.2L133.9 150.4" stroke="#465f8a" stroke-opacity="0.72" stroke-width="0.95"/>
<path d="M138.4 151.2L142.6 155.4M142.6 151.2L138.4 155.4" stroke="#465f8a" stroke-opacity="0.72" stroke-width="0.95"/>
<path d="M121.9 152.2L126.1 156.4M126.1 152.2L121.9 156.4" stroke="#465f8a" stroke-opacity="0.72" stroke-width="0.95"/>
<path d="M101.9 159.8L106.1 164.0M106.1 159.8L101.9 164.0" stroke="#465f8a" stroke-opacity="0.72" stroke-width="0.95"/>
<path d="M98.7 165.2L102.9 169.4M102.9 165.2L98.7 169.4" stroke="#465f8a" stroke-opacity="0.72" stroke-width="0.95"/>
<path d="M124.9 165.2L129.1 169.4M129.1 165.2L124.9 169.4" stroke="#465f8a" stroke-opacity="0.72" stroke-width="0.95"/>
<path d="M63.1 164.9L67.3 169.1M67.3 164.9L63.1 169.1" stroke="#465f8a" stroke-opacity="0.72" stroke-width="0.95"/>
<path d="M64.7 170.4L68.9 174.6M68.9 170.4L64.7 174.6" stroke="#465f8a" stroke-opacity="0.72" stroke-width="0.95"/>
<path d="M58.9 185.8L63.1 190.0M63.1 185.8L58.9 190.0" stroke="#465f8a" stroke-opacity="0.72" stroke-width="0.95"/>
<path d="M80.9 183.2L85.1 187.4M85.1 183.2L80.9 187.4" stroke="#465f8a" stroke-opacity="0.72" stroke-width="0.95"/>
<path d="M137.4 158.2L141.6 162.4M141.6 158.2L137.4 162.4" stroke="#465f8a" stroke-opacity="0.72" stroke-width="0.95"/>
<path d="M113.9 116.2L118.1 120.4M118.1 116.2L113.9 120.4" stroke="#465f8a" stroke-opacity="0.72" stroke-width="0.95"/>
<path d="M153.9 107.2L158.1 111.4M158.1 107.2L153.9 111.4" stroke="#465f8a" stroke-opacity="0.72" stroke-width="0.95"/>
<path d="M126.9 109.2L131.1 113.4M131.1 109.2L126.9 113.4" stroke="#465f8a" stroke-opacity="0.72" stroke-width="0.95"/>
<path d="M122.9 111.2L127.1 115.4M127.1 111.2L122.9 115.4" stroke="#465f8a" stroke-opacity="0.72" stroke-width="0.95"/>
<path d="M129.9 114.2L134.1 118.4M134.1 114.2L129.9 118.4" stroke="#465f8a" stroke-opacity="0.72" stroke-width="0.95"/>
<path d="M179.9 120.2L184.1 124.4M184.1 120.2L179.9 124.4" stroke="#465f8a" stroke-opacity="0.72" stroke-width="0.95"/>
<path d="M165.9 130.2L170.1 134.4M170.1 130.2L165.9 134.4" stroke="#465f8a" stroke-opacity="0.72" stroke-width="0.95"/>
<path d="M119.9 139.2L124.1 143.4M124.1 139.2L119.9 143.4" stroke="#465f8a" stroke-opacity="0.72" stroke-width="0.95"/>
<path d="M175.7 150.4L179.9 154.6M179.9 150.4L175.7 154.6" stroke="#465f8a" stroke-opacity="0.72" stroke-width="0.95"/>
<line x1="61" y1="138" x2="320" y2="92.8" stroke="#465f8a" stroke-opacity="0.55" stroke-width="1.3"/>
<line x1="84" y1="129" x2="355" y2="111.4" stroke="#e37e00" stroke-opacity="0.82" stroke-width="1.1"/>
<line x1="76" y1="139" x2="296" y2="99.5" stroke="#55752f" stroke-opacity="0.82" stroke-width="1.1"/>
<line x1="108" y1="137" x2="382.6" y2="89.3" stroke="#90353b" stroke-opacity="0.82" stroke-width="1.1"/>
<line x1="170.5" y1="147.3" x2="380.5" y2="86.3" stroke="#1a476f" stroke-opacity="0.82" stroke-width="1.3"/>
<rect x="114.5" y="273.5" width="241" height="19.5" fill="none" stroke="#7a7a7a" stroke-width="1"/>
<circle cx="121" cy="283" r="1.9" fill="none" stroke="#1a476f" stroke-opacity="0.74" stroke-width="1.1"/>
<text x="130.3" y="287" class="t">USA</text>
<path d="M170.4 280L173.4 283L170.4 286L167.4 283Z" fill="none" stroke="#90353b" stroke-opacity="0.72" stroke-width="1.1"/>
<text x="178.6" y="287" class="t">MEX</text>
<path d="M219.6 280.3L222.2 284.7L217.0 284.7Z" fill="none" stroke="#55752f" stroke-opacity="0.78" stroke-width="1.1"/>
<text x="228.4" y="287" class="t">DEU</text>
<rect x="268" y="281" width="4" height="4" fill="none" stroke="#e37e00" stroke-opacity="0.8" stroke-width="1.2"/>
<text x="278.2" y="287" class="t">GBR</text>
<path d="M318.0 281.2L321.6 284.8M321.6 281.2L318.0 284.8" stroke="#465f8a" stroke-opacity="0.72" stroke-width="1"/>
<text x="328" y="287" class="t">ESP</text>
</g></svg></body></html>
